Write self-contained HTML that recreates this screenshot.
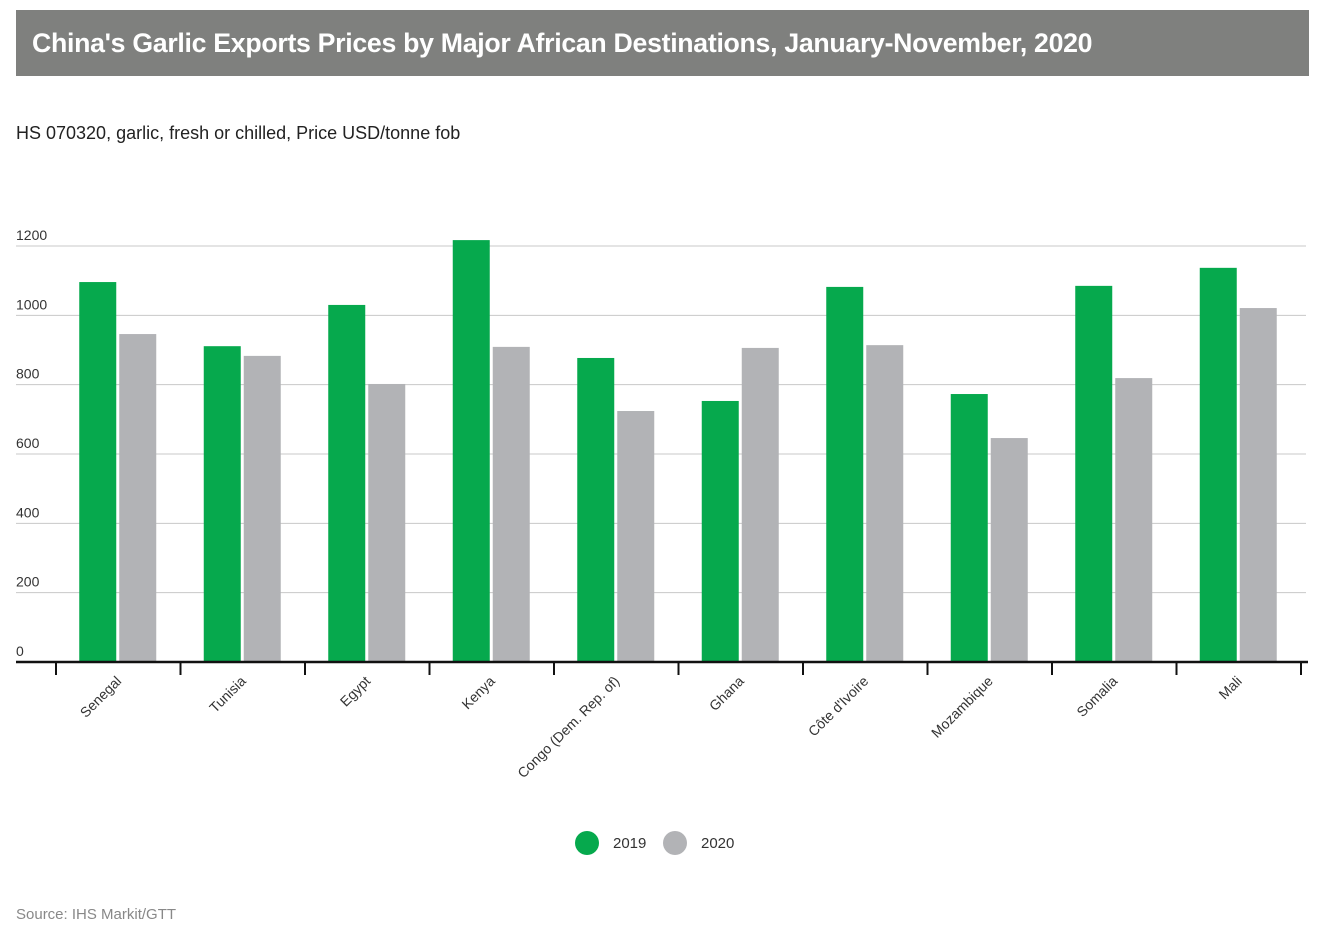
<!DOCTYPE html>
<html><head><meta charset="utf-8"><style>
body{margin:0;background:#fff;font-family:"Liberation Sans",Arial,sans-serif;}
#hdr{position:absolute;left:16px;top:10px;width:1293px;height:66px;background:#7f807e;}
#hdr h1{margin:0;color:#fff;font-size:26.7px;font-weight:bold;line-height:66px;padding-left:16px;letter-spacing:-0.3px}
#sub{position:absolute;left:16px;top:123px;font-size:18px;color:#222}
#src{position:absolute;left:16px;top:906px;font-size:15px;color:#888}
svg{position:absolute;left:0;top:0}
</style></head><body>
<div id="hdr"><h1>China's Garlic Exports Prices by Major African Destinations, January-November, 2020</h1></div>
<div id="sub">HS 070320, garlic, fresh or chilled, Price USD/tonne fob</div>
<div id="src">Source: IHS Markit/GTT</div>
<svg id="c" width="1330" height="943"></svg>
<script>
const categories=["Senegal","Tunisia","Egypt","Kenya","Congo (Dem. Rep. of)","Ghana","Côte d'Ivoire","Mozambique","Somalia","Mali"];
const values2019=[1096,911,1030,1217,877,753,1082,773,1085,1137];
const values2020=[946,883,802,909,724,906,914,646,819,1021];
const yTicks=[0,200,400,600,800,1000,1200];
const NS="http://www.w3.org/2000/svg";
const svg=document.getElementById('c');
const y0=662,yScale=416/1200,x0=56,step=124.5;
const y=v=>y0-v*yScale;
function mk(t,a){const e=document.createElementNS(NS,t);for(const k in a)e.setAttribute(k,a[k]);svg.appendChild(e);return e;}
yTicks.forEach(t=>{
 if(t>0){const g=mk('line',{x1:16,x2:1306,y1:y(t),y2:y(t),stroke:'#c8c8c8','stroke-width':1});
 
 }
 const l=mk('text',{x:16,y:y(t)-6,'font-size':14,fill:'#333'});l.textContent=t;
 
 
});
categories.forEach((c,i)=>{
 const cx=x0+step*(i+0.5);
 const b1=mk('rect',{x:cx-39,y:y(values2019[i]),width:37,height:values2019[i]*yScale,fill:'#06a94d'});
 
 
 const b2=mk('rect',{x:cx+1,y:y(values2020[i]),width:37,height:values2020[i]*yScale,fill:'#b2b3b6'});
 
 
 const l=mk('text',{x:cx+4,y:682,'font-size':14,fill:'#333','text-anchor':'end',transform:`rotate(-45 ${cx+4} 682)`});
 l.textContent=c;
 
 
});
for(let i=0;i<=10;i++){const t=mk('line',{x1:x0+step*i,x2:x0+step*i,y1:662,y2:675,stroke:'#111','stroke-width':2});
 
 }
const ax=mk('line',{x1:16,x2:1308,y1:662,y2:662,stroke:'#111','stroke-width':2.5});


[["2019","#06a94d",587],["2020","#b2b3b6",675]].forEach(([n,col,lx])=>{
 const c=mk('circle',{cx:lx,cy:843,r:12,fill:col});
 
 
 const t=mk('text',{x:lx+26,y:848,'font-size':15,fill:'#333'});t.textContent=n;
 
 
});
</script>
</body></html>
